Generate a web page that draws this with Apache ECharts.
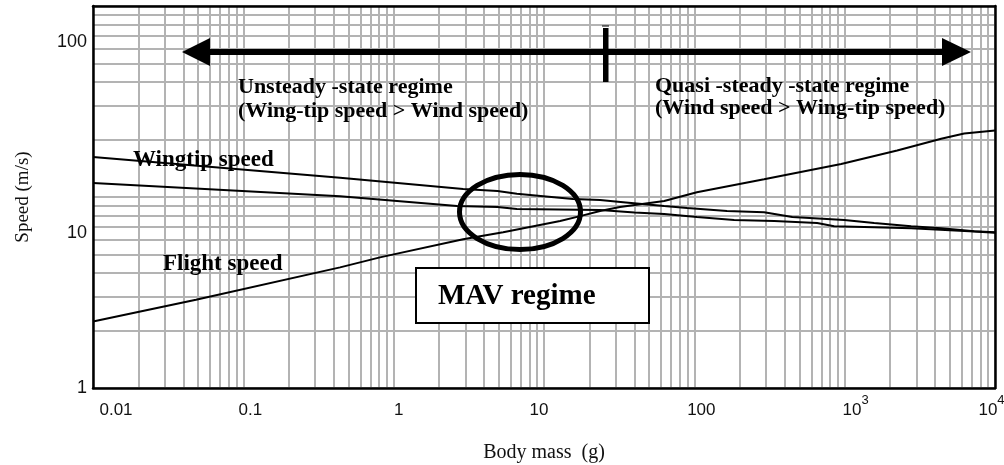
<!DOCTYPE html>
<html>
<head>
<meta charset="utf-8">
<script src="https://cdn.jsdelivr.net/npm/echarts@6/dist/echarts.min.js"></script>
<style>
html,body{margin:0;padding:0;background:#fff;}
#c{width:1004px;height:465px;}
</style>
</head>
<body>
<div id="c"></div>
<script>
// ---- data ----
const massTicks = [0.01, 0.1, 1, 10, 100, 1000, 10000];
const massTickLabels = ['0.01', '0.1', '1', '10', '100', '10^3', '10^4'];
const speedTicks = [1, 10, 100];
const speedTickLabels = ['1', '10', '100'];
const gridMultipliers = [1, 2, 3, 4, 5, 6, 7, 8, 9];

const wingtipUpperMass  = [0.01, 0.44, 2.9, 4.9, 6.6, 9.9, 15.6, 23.6, 35, 63, 89.5, 165, 291, 448, 993, 1571, 2770, 4385, 7270, 10000];
const wingtipUpperSpeed = [16.2, 12.6, 11.0, 10.75, 10.4, 10.1, 9.76, 9.64, 9.37, 8.97, 8.75, 8.44, 8.33, 7.85, 7.57, 7.30, 7.03, 6.87, 6.62, 6.54];

const wingtipLowerMass  = [0.01, 0.44, 2.64, 4.9, 6.6, 23.6, 40, 63, 104, 184, 340, 656, 851, 1571, 2770, 7270, 10000];
const wingtipLowerSpeed = [11.85, 10.1, 8.97, 8.86, 8.65, 8.54, 8.3, 8.14, 7.85, 7.57, 7.48, 7.30, 7.03, 6.95, 6.87, 6.60, 6.50];

const flightMass  = [0.01, 0.0484, 0.44, 0.81, 2.9, 3.76, 5.35, 12.8, 17.4, 23.6, 32, 63, 104, 291, 948, 2234, 4385, 6240, 10000];
const flightSpeed = [2.23, 2.9, 4.28, 4.83, 6.01, 6.23, 6.54, 7.48, 7.94, 8.44, 8.86, 9.53, 10.6, 12.4, 14.9, 17.5, 20.2, 21.5, 22.3];

// ---- build ----
function pairs(xs, ys) { return xs.map((x, i) => [x, ys[i]]); }
const gridMass = [];
massTicks.forEach((d, i) => {
  if (i < massTicks.length - 1) gridMultipliers.forEach(m => gridMass.push(d * m));
  else gridMass.push(d);
});
const gridSpeed = [];
speedTicks.forEach((d, i) => {
  if (i < speedTicks.length - 1) gridMultipliers.forEach(m => gridSpeed.push(d * m));
  else gridSpeed.push(d);
});

const xShiftStyles = ['x0', 'x1', 'x2', 'x3', 'x4', 'x5', 'x6'];
const supStyles = ['sup', 'sup', 'sup', 'sup', 'sup', 'sup', 'sup6'];
function xLabel(v) {
  const i = Math.round(Math.log10(v)) + 2;
  const t = massTickLabels[i];
  if (t === undefined) return '';
  const parts = t.split('^');
  if (parts.length === 2) return '{' + xShiftStyles[i] + '|' + parts[0] + '}{' + supStyles[i] + '|' + parts[1] + '}';
  return '{' + xShiftStyles[i] + '|' + t + '}';
}
function yLabel(v) {
  const i = Math.round(Math.log10(v));
  const t = speedTickLabels[i];
  if (t === undefined) return '';
  return '{' + (i === 0 ? 'y0' : 'y1') + '|' + t + '}';
}

const sans = '"Liberation Sans", Arial, sans-serif';
const serif = '"Liberation Serif", "Times New Roman", serif';
const xBase = { fontSize: 17, fontFamily: sans, color: '#111', lineHeight: 33 };
const supBase = { fontSize: 13, fontFamily: sans, color: '#111', lineHeight: 13, verticalAlign: 'top' };

const curveStyle = { color: '#000', width: 2 };

const option = {
  animation: false,
  backgroundColor: '#fff',
  grid: { left: 93, right: 9, top: 6, bottom: 77, containLabel: false, outerBoundsMode: 'none' },
  xAxis: [{
    type: 'log', logBase: 10, min: 0.01, max: 10000, z: 10,
    name: 'Body mass  (g)', nameLocation: 'middle', nameGap: 55,
    nameTextStyle: { fontFamily: serif, fontSize: 20, color: '#111' },
    axisLine: { show: true, lineStyle: { color: '#000', width: 2.5 } },
    axisTick: { show: false },
    splitLine: { show: false },
    axisLabel: {
      margin: 6, formatter: xLabel, showMinLabel: true, showMaxLabel: true, hideOverlap: false,
      rich: {
        x0: Object.assign({}, xBase, { padding: [0, 0, 0, 46] }),
        x1: Object.assign({}, xBase, { padding: [0, 0, 0, 14] }),
        x2: Object.assign({}, xBase, { padding: [0, 0, 0, 10] }),
        x3: Object.assign({}, xBase, { padding: [0, 10, 0, 0] }),
        x4: Object.assign({}, xBase, { padding: [0, 0, 0, 14] }),
        x5: Object.assign({}, xBase, { padding: [0, 0, 0, 22] }),
        x6: Object.assign({}, xBase),
        sup: Object.assign({}, supBase, { padding: [0, 0, 20, 0] }),
        sup6: Object.assign({}, supBase, { padding: [0, 7, 20, 0] })
      }
    }
  }, {
    type: 'log', logBase: 10, min: 0.01, max: 10000, position: 'top', z: 10,
    axisLine: { show: true, lineStyle: { color: '#000', width: 2.5 } },
    axisTick: { show: false }, axisLabel: { show: false }, splitLine: { show: false }
  }],
  yAxis: [{
    type: 'log', logBase: 10, min: 1, max: 100, z: 10,
    name: 'Speed (m/s)', nameLocation: 'middle', nameGap: 60, nameRotate: 90,
    nameTextStyle: { fontFamily: serif, fontSize: 19, color: '#111' },
    axisLine: { show: true, lineStyle: { color: '#000', width: 2.5 } },
    axisTick: { show: false },
    splitLine: { show: false },
    axisLabel: {
      margin: 6, formatter: yLabel, showMinLabel: true, showMaxLabel: true,
      rich: {
        y0: { fontSize: 18, fontFamily: sans, color: '#111' },
        y1: { fontSize: 18, fontFamily: sans, color: '#111', padding: [72, 0, 0, 0] }
      }
    }
  }, {
    type: 'log', logBase: 10, min: 1, max: 100, position: 'right', z: 10,
    axisLine: { show: true, lineStyle: { color: '#000', width: 2.5 } },
    axisTick: { show: false }, axisLabel: { show: false }, splitLine: { show: false }
  }],
  series: [
    {
      name: 'grid', type: 'line', data: [[0.01, 1]], symbol: 'none', silent: true,
      lineStyle: { width: 0, opacity: 0 }, z: 1,
      markLine: {
        silent: true, z: 1, symbol: ['none', 'none'], label: { show: false },
        emphasis: { disabled: true },
        lineStyle: { color: '#b3b3b3', width: 2, type: 'solid' },
        data: gridMass.map(v => ({ xAxis: v })).concat(gridSpeed.map(v => ({ yAxis: v })))
      }
    },
    { name: 'Wingtip speed (upper)', type: 'line', data: pairs(wingtipUpperMass, wingtipUpperSpeed), symbol: 'none', lineStyle: curveStyle, z: 3, silent: true },
    { name: 'Wingtip speed (lower)', type: 'line', data: pairs(wingtipLowerMass, wingtipLowerSpeed), symbol: 'none', lineStyle: curveStyle, z: 3, silent: true },
    { name: 'Flight speed', type: 'line', data: pairs(flightMass, flightSpeed), symbol: 'none', lineStyle: curveStyle, z: 3, silent: true }
  ],
  graphic: [
    { type: 'line', z: 100, shape: { x1: 205, y1: 52, x2: 946, y2: 52 }, style: { stroke: '#000', lineWidth: 6 } },
    { type: 'polygon', z: 100, shape: { points: [[182, 52], [210, 38], [210, 66]] }, style: { fill: '#000' } },
    { type: 'polygon', z: 100, shape: { points: [[971, 52], [942, 38], [942, 66]] }, style: { fill: '#000' } },
    { type: 'rect', z: 100, shape: { x: 603, y: 28, width: 5.5, height: 54 }, style: { fill: '#000' } },
    { type: 'line', z: 100, shape: { x1: 602, y1: 26, x2: 609, y2: 26 }, style: { stroke: '#000', lineWidth: 1 } },
    { type: 'ellipse', z: 100, shape: { cx: 520, cy: 212, rx: 60.5, ry: 37.5 }, style: { fill: 'none', stroke: '#000', lineWidth: 5 } },
    { type: 'rect', z: 100, shape: { x: 416, y: 268, width: 233, height: 55 }, style: { fill: '#fff', stroke: '#000', lineWidth: 2 } },
    { type: 'text', z: 101, style: { x: 438, y: 297, text: 'MAV regime', fontFamily: serif, fontWeight: 'bold', fontSize: 29, fill: '#000', textVerticalAlign: 'middle' } },
    { type: 'text', z: 101, style: { x: 238, y: 87, text: 'Unsteady -state regime', fontFamily: serif, fontWeight: 'bold', fontSize: 22, fill: '#000', textVerticalAlign: 'middle' } },
    { type: 'text', z: 101, style: { x: 238, y: 111, text: '(Wing-tip speed > Wind speed)', fontFamily: serif, fontWeight: 'bold', fontSize: 22, fill: '#000', textVerticalAlign: 'middle' } },
    { type: 'text', z: 101, style: { x: 655, y: 86, text: 'Quasi -steady -state regime', fontFamily: serif, fontWeight: 'bold', fontSize: 22, fill: '#000', textVerticalAlign: 'middle' } },
    { type: 'text', z: 101, style: { x: 655, y: 108, text: '(Wind speed > Wing-tip speed)', fontFamily: serif, fontWeight: 'bold', fontSize: 22, fill: '#000', textVerticalAlign: 'middle' } },
    { type: 'text', z: 101, style: { x: 133, y: 160, text: 'Wingtip speed', fontFamily: serif, fontWeight: 'bold', fontSize: 23, fill: '#000', textVerticalAlign: 'middle' } },
    { type: 'text', z: 101, style: { x: 163, y: 264, text: 'Flight speed', fontFamily: serif, fontWeight: 'bold', fontSize: 23, fill: '#000', textVerticalAlign: 'middle' } }
  ]
};

const chart = echarts.init(document.getElementById('c'), null, { renderer: 'canvas' });
chart.setOption(option);
</script>
</body>
</html>
